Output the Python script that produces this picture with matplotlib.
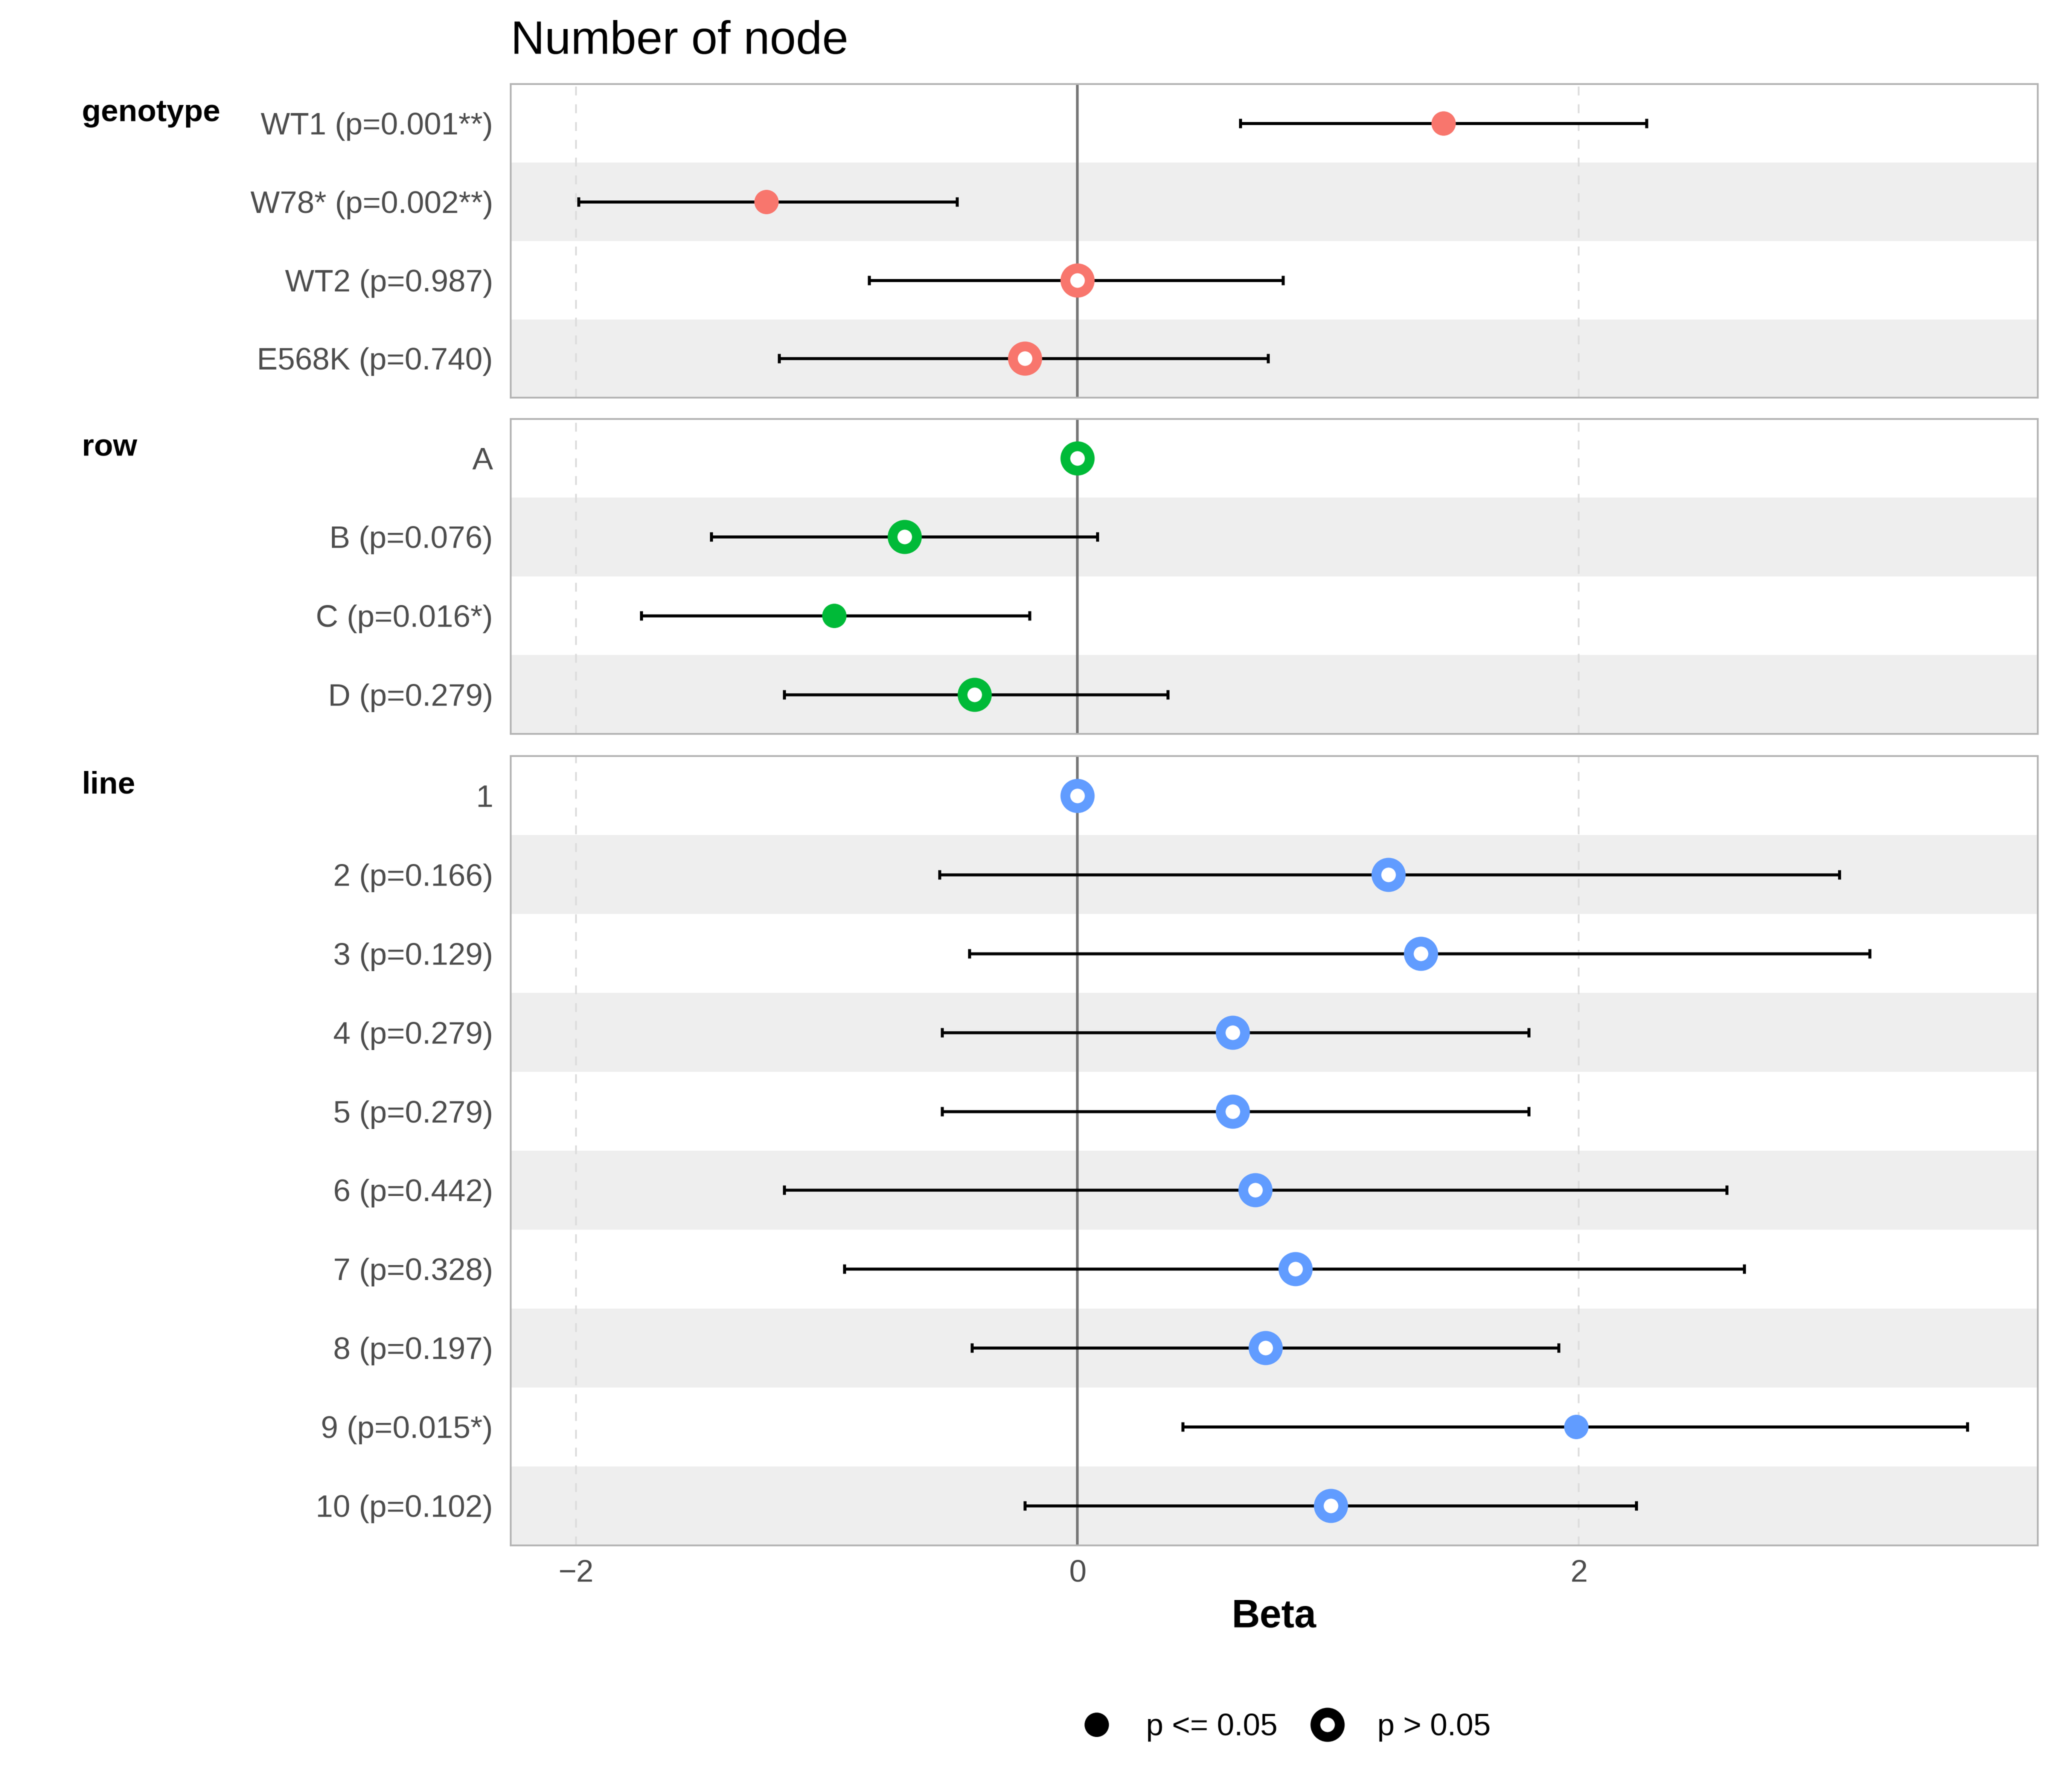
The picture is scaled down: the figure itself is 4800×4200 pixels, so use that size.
import numpy as np
import matplotlib.pyplot as plt
from matplotlib.lines import Line2D

plt.rcParams['font.family'] = ['Liberation Sans', 'DejaVu Sans']

# model estimates per term (reference levels have no CI / p)
geno_labels = ["WT1", "W78*", "WT2", "E568K"]
geno_beta = [1.46, -1.24, 0.00, -0.21]
geno_lo = [0.65, -1.99, -0.83, -1.19]
geno_hi = [2.27, -0.48, 0.82, 0.76]
geno_p = [0.001, 0.002, 0.987, 0.740]

row_labels = ["A", "B", "C", "D"]
row_beta = [0.0, -0.69, -0.97, -0.41]
row_lo = [np.nan, -1.46, -1.74, -1.17]
row_hi = [np.nan, 0.08, -0.19, 0.36]
row_p = [None, 0.076, 0.016, 0.279]

line_labels = ["1", "2", "3", "4", "5", "6", "7", "8", "9", "10"]
line_beta = [0.0, 1.24, 1.37, 0.62, 0.62, 0.71, 0.87, 0.75, 1.99, 1.01]
line_lo = [np.nan, -0.55, -0.43, -0.54, -0.54, -1.17, -0.93, -0.42, 0.42, -0.21]
line_hi = [np.nan, 3.04, 3.16, 1.80, 1.80, 2.59, 2.66, 1.92, 3.55, 2.23]
line_p = [None, 0.166, 0.129, 0.279, 0.279, 0.442, 0.328, 0.197, 0.015, 0.102]

groups = [
    ("genotype", geno_labels, geno_beta, geno_lo, geno_hi, geno_p, "#F8766D"),
    ("row", row_labels, row_beta, row_lo, row_hi, row_p, "#00BA38"),
    ("line", line_labels, line_beta, line_lo, line_hi, line_p, "#619CFF"),
]

def stars(p):
    if p <= 0.01:
        return "**"
    if p <= 0.05:
        return "*"
    return ""

def tick_text(lab, p):
    if p is None:
        return lab
    return f"{lab} (p={p:.3f}{stars(p)})"

fig = plt.figure(figsize=(16, 14), dpi=300)

left, right = 0.2494, 0.9949
rects = [(0.9531, 0.7780), (0.7663, 0.5905), (0.5780, 0.1377)]
xmin, xmax = -2.26, 3.83
ms = 13.7
mew = 5.5

for (name, labs, beta, lo, hi, pv, col), (top, bot) in zip(groups, rects):
    ax = fig.add_axes([left, bot, right - left, top - bot])
    n = len(labs)
    y = np.arange(n)
    for i in y:
        if i % 2 == 1:
            ax.axhspan(i - 0.5, i + 0.5, color="#EEEEEE", lw=0, zorder=0)
    for gx in [-2, 2]:
        ax.axvline(gx, color="#DDDDDD", lw=1.0, ls=(0, (5, 5)), zorder=1)
    ax.axvline(0, color="#777777", lw=1.5, zorder=2)

    beta = np.array(beta)
    lo = np.array(lo)
    hi = np.array(hi)
    ok = ~np.isnan(lo)
    ax.errorbar(beta[ok], y[ok], xerr=[beta[ok] - lo[ok], hi[ok] - beta[ok]],
                fmt="none", ecolor="black", elinewidth=1.7, capsize=2.6,
                capthick=1.7, zorder=3)
    for i in y:
        p = pv[i]
        if p is not None and p <= 0.05:
            ax.plot(beta[i], i, "o", color=col, ms=ms, mew=0, zorder=4)
        else:
            ax.plot(beta[i], i, "o", mfc="white", mec=col, ms=ms, mew=mew, zorder=4)

    ax.set_xlim(xmin, xmax)
    ax.set_ylim(n - 0.5, -0.5)
    ax.set_yticks(y)
    ax.set_yticklabels([tick_text(l, p) for l, p in zip(labs, pv)],
                       fontsize=17.5, color="#4D4D4D")
    ax.tick_params(axis="y", length=0, pad=10)
    ax.set_xticks([-2, 0, 2])
    for s in ax.spines.values():
        s.set_color("#B3B3B3")
        s.set_linewidth(1.0)
    if name == "line":
        ax.tick_params(axis="x", length=0, pad=8, labelsize=17.5, labelcolor="#4D4D4D")
        ax.set_xlabel("Beta", fontsize=22, fontweight="bold", labelpad=6)
    else:
        ax.tick_params(axis="x", length=0, labelbottom=False)
    # group header, slightly above the first row
    yt = ax.transData.transform((0, -0.13))[1]
    fig.text(0.040, fig.transFigure.inverted().transform((0, yt))[1], name,
             fontsize=17.5, fontweight="bold", ha="left", va="center")
    if name == "genotype":
        ax.set_title("Number of node", loc="left", fontsize=26.5, pad=17)

handles = [
    Line2D([], [], marker="o", ls="none", color="black", ms=ms, mew=0),
    Line2D([], [], marker="o", ls="none", mfc="white", mec="black", ms=ms, mew=mew),
]
fig.legend(handles, ["p <= 0.05", "p > 0.05"], loc="center", ncol=2,
           bbox_to_anchor=(0.624, 0.036), frameon=False, fontsize=17.5,
           handlelength=2.0, handletextpad=0.6, columnspacing=0.6)

fig.savefig("out.png", dpi=300, facecolor="white")
